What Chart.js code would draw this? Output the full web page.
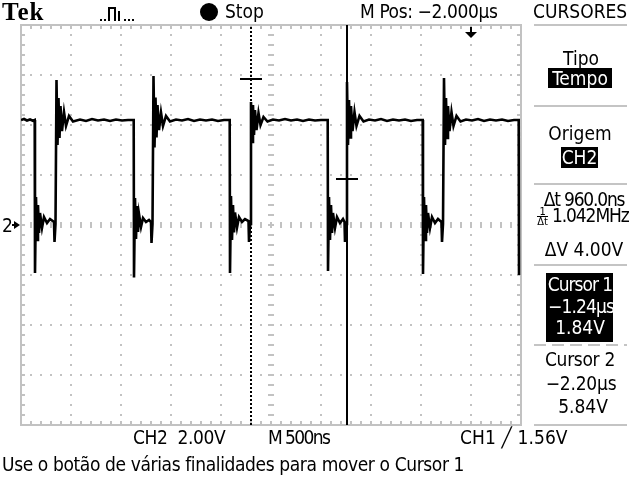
<!DOCTYPE html>
<html>
<head>
<meta charset="utf-8">
<script src="https://cdn.jsdelivr.net/npm/chart.js@4/dist/chart.umd.min.js"></script>
<style>
  html, body { margin: 0; padding: 0; background: #fff; }
  #wrap { position: relative; width: 640px; height: 480px; overflow: hidden; background: #fff; }
  #c { position: absolute; left: 0; top: 0; }
  .t { position: absolute; font-family: "Liberation Sans Narrow", "DejaVu Sans Condensed", sans-serif;
       font-size: 19px; line-height: 19px; color: #000; white-space: nowrap; }
  .c { width: 120px; text-align: center; }
  .inv { background: #000; color: #fff; text-align: center; }
  .sep { position: absolute; height: 2px; background: #c4c4c4; }
  .frac { display: inline-block; vertical-align: -3px; font-size: 11px; line-height: 8px; text-align: center; margin-right: 4px; letter-spacing: 0; }
  .frac span { display: block; }
  .frac .den { border-top: 1px solid #000; padding-top: 1px; }
</style>
</head>
<body>
<div id="wrap">
  <canvas id="c" width="640" height="480"></canvas>

  <div class="t" style="left:2px;top:-1px;font-family:'Liberation Serif','DejaVu Serif',serif;font-weight:bold;font-size:25px;line-height:25px;letter-spacing:1px;">Tek</div>
  <svg style="position:absolute;left:98px;top:4px" width="40" height="20" viewBox="0 0 40 20">
    <g fill="#000">
      <rect x="2" y="15" width="2" height="2"/><rect x="6" y="15" width="2" height="2"/>
      <rect x="10" y="3" width="2" height="14"/><rect x="10" y="3" width="8" height="2"/>
      <rect x="16" y="3" width="2" height="14"/><rect x="20" y="7" width="2" height="10"/>
      <rect x="26" y="15" width="2" height="2"/><rect x="30" y="15" width="2" height="2"/><rect x="34" y="15" width="2" height="2"/>
    </g>
  </svg>
  <svg style="position:absolute;left:199px;top:2px" width="22" height="22"><circle cx="10" cy="10" r="9" fill="#000"/></svg>
  <div class="t" style="left:225px;top:2px;">Stop</div>
  <div class="t" style="left:360px;top:2px;letter-spacing:-0.4px;">M Pos: −2.000µs</div>
  <div class="t" style="left:533px;top:2px;">CURSORES</div>

  <div class="sep" style="left:534px;top:24px;width:93px;"></div>
  <div class="t c" style="left:521px;top:49px;">Tipo</div>
  <div class="t inv" style="left:548px;top:68px;width:64px;height:20px;line-height:20px;">Tempo</div>
  <div class="sep" style="left:534px;top:105px;width:93px;"></div>
  <div class="t c" style="left:520px;top:124px;">Origem</div>
  <div class="t inv" style="left:561px;top:147px;width:37px;height:21px;line-height:21px;">CH2</div>
  <div class="sep" style="left:534px;top:183px;width:93px;"></div>
  <div class="t c" style="left:524px;top:190px;letter-spacing:-1.2px;">Δt 960.0ns</div>
  <div class="t c" style="left:523px;top:206px;letter-spacing:-1.1px;"><span class="frac"><span>1</span><span class="den">Δt</span></span>1.042MHz</div>
  <div class="t c" style="left:524px;top:240px;">ΔV 4.00V</div>
  <div class="sep" style="left:534px;top:264px;width:93px;"></div>
  <div class="t inv" style="left:546px;top:273px;width:67px;height:69px;"></div>
  <div class="t c" style="left:520px;top:275px;color:#fff;letter-spacing:-1px;">Cursor 1</div>
  <div class="t c" style="left:521px;top:297px;color:#fff;letter-spacing:-0.9px;">−1.24µs</div>
  <div class="t c" style="left:520px;top:318px;color:#fff;">1.84V</div>
  <div class="sep" style="left:534px;top:344px;width:93px;background:repeating-linear-gradient(90deg,#c4c4c4 0 12px,transparent 12px 18px);"></div>
  <div class="t c" style="left:520px;top:350px;letter-spacing:-0.3px;">Cursor 2</div>
  <div class="t c" style="left:521px;top:374px;letter-spacing:-0.2px;">−2.20µs</div>
  <div class="t c" style="left:523px;top:397px;">5.84V</div>
  <div class="sep" style="left:534px;top:424px;width:93px;"></div>

  <div class="t" style="left:2px;top:216px;">2</div>

  <div class="t" style="left:133px;top:428px;letter-spacing:-0.4px;">CH2&nbsp;&nbsp;2.00V</div>
  <div class="t" style="left:268px;top:428px;letter-spacing:-1.6px;">M 500ns</div>
  <div class="t" style="left:460px;top:428px;letter-spacing:0.1px;">CH1 ╱ 1.56V</div>
  <div class="t" style="left:2px;top:455px;letter-spacing:-0.38px;">Use o botão de várias finalidades para mover o Cursor 1</div>
</div>

<script>
// ---- Data (time in µs relative to trigger, CH2 in volts) ----
const timeUs = [
  -4.50, -4.47, -4.44, -4.41, -4.38, -4.363,
  -4.36, -4.35, -4.34, -4.33, -4.32, -4.31, -4.29, -4.27, -4.24, -4.21, -4.17, -4.165, -4.155,
  -4.145, -4.135, -4.125, -4.115, -4.105, -4.09, -4.07, -4.05, -4.02, -3.98,
  -3.91, -3.85, -3.79, -3.73, -3.67, -3.61, -3.55, -3.49, -3.43, -3.373,
  -3.37, -3.36, -3.35, -3.34, -3.33, -3.32, -3.30, -3.28, -3.25, -3.22, -3.20, -3.195, -3.185,
  -3.175, -3.165, -3.155, -3.145, -3.135, -3.12, -3.10, -3.08, -3.05, -3.01,
  -2.95, -2.89, -2.83, -2.77, -2.71, -2.65, -2.59, -2.53, -2.47, -2.413,
  -2.41, -2.40, -2.39, -2.38, -2.37, -2.36, -2.34, -2.32, -2.29, -2.26, -2.225, -2.22, -2.21,
  -2.20, -2.19, -2.18, -2.17, -2.16, -2.145, -2.125, -2.105, -2.075, -2.035,
  -1.98, -1.92, -1.86, -1.80, -1.74, -1.68, -1.62, -1.56, -1.50, -1.433,
  -1.43, -1.42, -1.41, -1.40, -1.39, -1.38, -1.36, -1.34, -1.31, -1.28, -1.265, -1.26, -1.25,
  -1.24, -1.23, -1.22, -1.21, -1.20, -1.185, -1.165, -1.145, -1.115, -1.075,
  -1.02, -0.96, -0.90, -0.84, -0.78, -0.72, -0.66, -0.60, -0.54, -0.483,
  -0.48, -0.47, -0.46, -0.45, -0.44, -0.43, -0.41, -0.39, -0.36, -0.33, -0.295, -0.29, -0.28,
  -0.27, -0.26, -0.25, -0.24, -0.23, -0.215, -0.195, -0.175, -0.145, -0.105,
  -0.05, 0.01, 0.07, 0.13, 0.19, 0.25, 0.31, 0.37, 0.43, 0.477,
  0.48
];
const ch2Volts = [
  4.20, 4.24, 4.18, 4.22, 4.17, 4.20,
  -1.92, 1.12, -0.60, 0.80, -0.32, 0.48, -0.12, 0.32, 0.08, 0.24, 0.12, -0.68, 0.04,
  5.80, 3.20, 5.08, 3.48, 4.76, 3.76, 4.52, 3.96, 4.36, 4.14,
  4.22, 4.16, 4.24, 4.18, 4.22, 4.16, 4.22, 4.18, 4.20, 4.20,
  -2.10, 1.08, -0.56, 0.76, -0.28, 0.44, -0.08, 0.28, 0.12, 0.20, 0.12, -0.72, 0.04,
  5.96, 3.10, 5.10, 3.50, 4.80, 3.80, 4.50, 3.96, 4.36, 4.14,
  4.22, 4.18, 4.24, 4.16, 4.22, 4.18, 4.22, 4.16, 4.20, 4.20,
  -1.92, 1.16, -0.60, 0.80, -0.30, 0.50, -0.10, 0.32, 0.12, 0.24, 0.16, -0.68, 0.04,
  4.92, 3.32, 4.80, 3.60, 4.60, 3.80, 4.48, 4.00, 4.32, 4.14,
  4.22, 4.18, 4.24, 4.18, 4.22, 4.16, 4.22, 4.18, 4.20, 4.20,
  -1.84, 1.12, -0.60, 0.80, -0.32, 0.48, -0.12, 0.32, 0.08, 0.24, 0.12, -0.68, 0.04,
  5.72, 3.20, 5.00, 3.50, 4.76, 3.76, 4.52, 3.96, 4.36, 4.14,
  4.22, 4.18, 4.24, 4.16, 4.22, 4.18, 4.22, 4.16, 4.20, 4.20,
  -1.96, 1.12, -0.60, 0.80, -0.32, 0.48, -0.12, 0.32, 0.08, 0.24, 0.12, -0.68, 0.04,
  5.88, 3.20, 5.08, 3.48, 4.76, 3.76, 4.52, 3.96, 4.36, 4.14,
  4.22, 4.18, 4.24, 4.16, 4.22, 4.18, 4.22, 4.16, 4.20, 4.20,
  -2.00
];
const cursorTimesUs = [-1.24, -2.20];   // Cursor 1, Cursor 2
const cursorVolts   = [1.84, 5.84];     // Cursor 1, Cursor 2
const timeRangeUs   = [-4.5, 0.5];      // 10 div x 500 ns
const voltRange     = [-8, 8];          // 8 div x 2.00 V
const triggerTimeUs = 0;

// ---- Styles ----
const GRID = '#c2c2c2';
const MARK_HALF_US = 0.11;

const trace = timeUs.map((t, i) => ({ x: t, y: ch2Volts[i] }));

const graticule = {
  id: 'graticule',
  beforeDatasetsDraw(chart) {
    const { ctx, scales: { x: xs, y: ys } } = chart;
    const px = v => Math.round(xs.getPixelForValue(v));
    const py = v => Math.round(ys.getPixelForValue(v));
    const [x0, x1] = timeRangeUs, [y0, y1] = voltRange;
    const divX = 0.5, divY = 2, nX = 10, nY = 8, sub = 5;
    ctx.save();
    ctx.fillStyle = GRID;
    for (let i = 1; i < nX; i++) {
      if (i === nX / 2) continue;
      const X = px(x0 + i * divX);
      for (let j = 1; j < nY * sub; j++) ctx.fillRect(X - 1, py(y0 + j * divY / sub) - 1, 2, 2);
    }
    for (let i = 1; i < nY; i++) {
      if (i === nY / 2) continue;
      const Y = py(y0 + i * divY);
      for (let j = 1; j < nX * sub; j++) ctx.fillRect(px(x0 + j * divX / sub) - 1, Y - 1, 2, 2);
    }
    const Xc = px((x0 + x1) / 2), Yc = py((y0 + y1) / 2);
    for (let j = 1; j < nY * sub; j++) ctx.fillRect(Xc - 3, py(y0 + j * divY / sub) - 1, 6, 2);
    for (let j = 1; j < nX * sub; j++) ctx.fillRect(px(x0 + j * divX / sub) - 1, Yc - 3, 2, 6);
    const L = px(x0), R = px(x1), T = py(y1), B = py(y0);
    ctx.fillRect(L - 1, T - 1, R - L + 2, 2);
    ctx.fillRect(L - 1, B - 1, R - L + 2, 2);
    ctx.fillRect(L - 1, T - 1, 2, B - T + 2);
    ctx.fillRect(R - 1, T - 1, 2, B - T + 2);
    for (let j = 1; j < nX * sub; j++) {
      const X = px(x0 + j * divX / sub);
      ctx.fillRect(X - 1, T, 2, 4);
      ctx.fillRect(X - 1, B - 4, 2, 4);
    }
    for (let j = 1; j < nY * sub; j++) {
      const Y = py(y0 + j * divY / sub);
      ctx.fillRect(L, Y - 1, 4, 2);
      ctx.fillRect(R - 4, Y - 1, 4, 2);
    }
    ctx.restore();
  },
  afterDraw(chart) {
    const { ctx, scales: { x: xs, y: ys } } = chart;
    ctx.save();
    ctx.fillStyle = '#000';
    const Xt = Math.round(xs.getPixelForValue(triggerTimeUs));
    const T = Math.round(ys.getPixelForValue(voltRange[1]));
    ctx.fillRect(Xt - 1, T + 2, 2, 6);
    ctx.beginPath();
    ctx.moveTo(Xt - 6, T + 7); ctx.lineTo(Xt + 6, T + 7); ctx.lineTo(Xt, T + 13); ctx.closePath(); ctx.fill();
    const Yg = Math.round(ys.getPixelForValue(0));
    ctx.beginPath();
    ctx.moveTo(14, Yg - 4); ctx.lineTo(20, Yg); ctx.lineTo(14, Yg + 4); ctx.closePath(); ctx.fill();
    ctx.fillRect(12, Yg - 1, 4, 2);
    ctx.restore();
  }
};

new Chart(document.getElementById('c'), {
  type: 'line',
  data: {
    datasets: [
      { data: trace, borderColor: '#000', borderWidth: 2.6, pointRadius: 0, tension: 0, order: 3 },
      { data: [{ x: cursorTimesUs[1], y: voltRange[0] }, { x: cursorTimesUs[1], y: voltRange[1] }],
        borderColor: '#000', borderWidth: 2, borderDash: [2, 2], pointRadius: 0, order: 2 },
      { data: [{ x: cursorTimesUs[0], y: voltRange[0] }, { x: cursorTimesUs[0], y: voltRange[1] }],
        borderColor: '#000', borderWidth: 2, pointRadius: 0, order: 2 },
      { data: [{ x: cursorTimesUs[1] - MARK_HALF_US, y: cursorVolts[1] }, { x: cursorTimesUs[1] + MARK_HALF_US, y: cursorVolts[1] }],
        borderColor: '#000', borderWidth: 2, pointRadius: 0, order: 1 },
      { data: [{ x: cursorTimesUs[0] - MARK_HALF_US, y: cursorVolts[0] }, { x: cursorTimesUs[0] + MARK_HALF_US, y: cursorVolts[0] }],
        borderColor: '#000', borderWidth: 2, pointRadius: 0, order: 1 }
    ]
  },
  options: {
    responsive: false,
    animation: false,
    devicePixelRatio: 1,
    layout: { padding: { left: 21, right: 119, top: 25, bottom: 55 } },
    plugins: { legend: { display: false }, tooltip: { enabled: false } },
    scales: {
      x: { type: 'linear', min: timeRangeUs[0], max: timeRangeUs[1], display: false },
      y: { type: 'linear', min: voltRange[0], max: voltRange[1], display: false }
    }
  },
  plugins: [graticule]
});
</script>
</body>
</html>
